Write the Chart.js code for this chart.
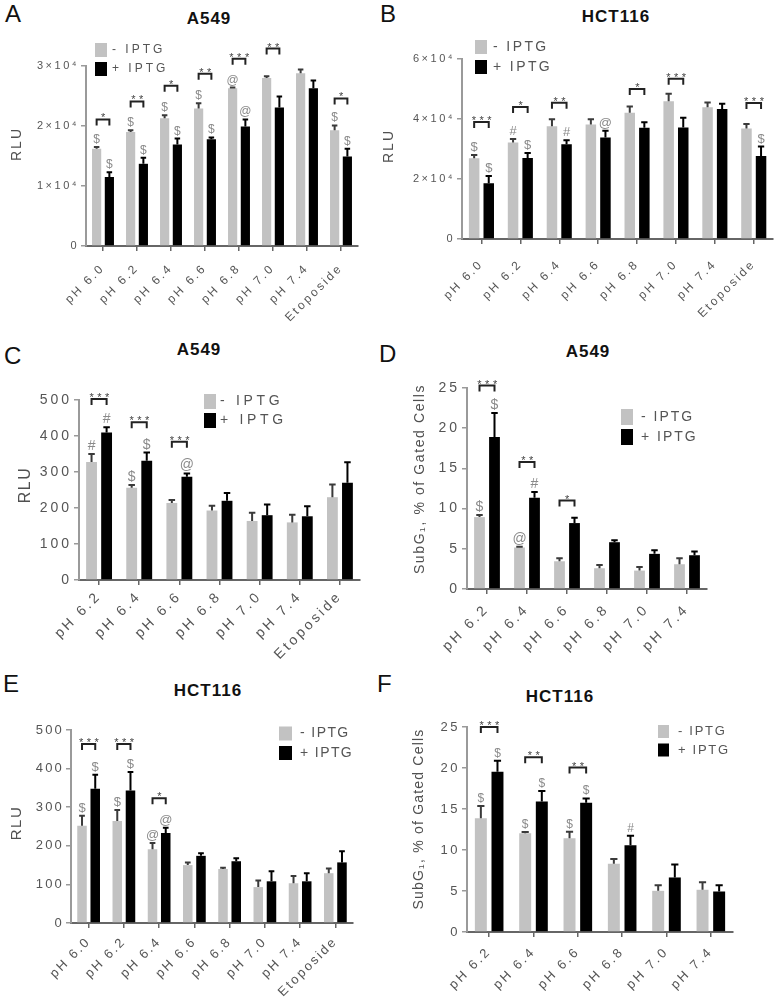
<!DOCTYPE html>
<html>
<head>
<meta charset="utf-8">
<script src="https://cdn.jsdelivr.net/npm/chart.js@4.4.1/dist/chart.umd.min.js"></script>
<style>
  body { margin: 0; width: 777px; height: 1001px; background: #fff; position: relative; overflow: hidden;
         font-family: "Liberation Sans", Arial, sans-serif; }
  canvas { position: absolute; }
  .letter { position: absolute; font-size: 24px; line-height: 1; color: #111; }
  .title { position: absolute; font-size: 17px; font-weight: bold; line-height: 1; color: #111;
           letter-spacing: 1px; transform: translate(-50%, -50%); white-space: nowrap; }
</style>
</head>
<body>
<div class="letter" style="left:5px;top:2px">A</div>
<div class="letter" style="left:380px;top:2px">B</div>
<div class="letter" style="left:4px;top:344px">C</div>
<div class="letter" style="left:379px;top:342px">D</div>
<div class="letter" style="left:3px;top:672px">E</div>
<div class="letter" style="left:377px;top:672px">F</div>
<div class="title" style="left:209px;top:18px">A549</div>
<div class="title" style="left:616px;top:16px">HCT116</div>
<div class="title" style="left:199px;top:349px">A549</div>
<div class="title" style="left:588px;top:351px">A549</div>
<div class="title" style="left:208px;top:690px">HCT116</div>
<div class="title" style="left:560px;top:696px">HCT116</div>
<script>
// categories
const labels8 = ['pH 6.0', 'pH 6.2', 'pH 6.4', 'pH 6.6', 'pH 6.8', 'pH 7.0', 'pH 7.4', 'Etoposide'];
const labels7 = ['pH 6.2', 'pH 6.4', 'pH 6.6', 'pH 6.8', 'pH 7.0', 'pH 7.4', 'Etoposide'];
const labels6 = ['pH 6.2', 'pH 6.4', 'pH 6.6', 'pH 6.8', 'pH 7.0', 'pH 7.4'];

// A - A549, RLU
const aMinus    = [16200, 19000, 21300, 22900, 26300, 28000, 28800, 19300];
const aMinusErr = [300, 300, 500, 900, 100, 300, 600, 800];
const aPlus     = [11500, 13700, 16900, 17800, 19900, 23100, 26300, 14900];
const aPlusErr  = [800, 1000, 1000, 300, 1200, 1800, 1300, 1300];
const aMinusSym = ['$', '$', '$', '$', '@', '', '', '$'];
const aPlusSym  = ['$', '$', '$', '$', '@', '', '', '$'];
const aStars    = ['*', '**', '*', '**', '***', '**', '', '*'];
const aBracket  = [21100, 24100, 26700, 28700, 31200, 32900, 0, 24600];

// B - HCT116, RLU
const bMinus    = [26900, 32200, 37600, 38200, 42100, 45900, 43900, 36800];
const bMinusErr = [1100, 1100, 2300, 1700, 2100, 2500, 1600, 1500];
const bPlus     = [18600, 27000, 31600, 33800, 37100, 37200, 43300, 27700];
const bPlusErr  = [2400, 1700, 1300, 2300, 1800, 3200, 1800, 3100];
const bMinusSym = ['$', '#', '', '', '', '', '', ''];
const bPlusSym  = ['$', '$', '#', '@', '', '', '', '$'];
const bStars    = ['***', '*', '**', '', '*', '***', '', '***'];
const bBracket  = [39000, 44000, 45400, 0, 50000, 53400, 0, 45300];

// C - A549, RLU
const cMinus    = [328, 256, 214, 193, 164, 160, 230];
const cMinusErr = [22, 8, 8, 13, 23, 21, 35];
const cPlus     = [410, 331, 287, 220, 180, 177, 270];
const cPlusErr  = [14, 23, 9, 22, 30, 28, 57];
const cMinusSym = ['#', '$', '', '', '', '', ''];
const cPlusSym  = ['#', '$', '@', '', '', '', ''];
const cStars    = ['***', '***', '***', '', '', '', ''];
const cBracket  = [503, 438, 384, 0, 0, 0, 0];

// D - A549, SubG1 %
const dMinus    = [8.94, 5.16, 3.45, 2.58, 2.29, 3.08];
const dMinusErr = [0.26, 0.08, 0.38, 0.42, 0.46, 0.75];
const dPlus     = [18.9, 11.36, 8.2, 5.82, 4.37, 4.2];
const dPlusErr  = [3.0, 0.7, 0.66, 0.25, 0.46, 0.46];
const dMinusSym = ['$', '@', '', '', '', ''];
const dPlusSym  = ['$', '#', '', '', '', ''];
const dStars    = ['***', '**', '*', '', '', ''];
const dBracket  = [25.3, 15.8, 11.0, 0, 0, 0];

// E - HCT116, RLU
const eMinus    = [252, 264, 191, 150, 140, 93, 103, 129];
const eMinusErr = [26, 29, 16, 7, 3, 17, 19, 12];
const ePlus     = [348, 343, 233, 174, 160, 108, 108, 157];
const ePlusErr  = [36, 48, 14, 7, 8, 26, 21, 29];
const eMinusSym = ['$', '$', '@', '', '', '', '', ''];
const ePlusSym  = ['$', '$', '@', '', '', '', '', ''];
const eStars    = ['***', '***', '*', '', '', '', '', ''];
const eBracket  = [464, 464, 323, 0, 0, 0, 0, 0];

// F - HCT116, SubG1 %
const fMinus    = [13.86, 12.03, 11.43, 8.31, 5.02, 5.15];
const fMinusErr = [1.5, 0.17, 0.81, 0.59, 0.68, 0.93];
const fPlus     = [19.53, 15.92, 15.76, 10.58, 6.65, 4.94];
const fPlusErr  = [1.34, 1.26, 0.53, 1.17, 1.58, 0.77];
const fMinusSym = ['$', '$', '$', '', '', ''];
const fPlusSym  = ['$', '$', '$', '#', '', ''];
const fStars    = ['***', '**', '**', '', '', ''];
const fBracket  = [25.0, 21.3, 20.06, 0, 0, 0];

const FAMILY = '"Liberation Sans", Arial, sans-serif';
Chart.defaults.font.family = FAMILY;

const sci = v => v === 0 ? '0' : (v / 10000) + '×10⁴';
const SUBG = 'SubG₁, % of Gated Cells';

function makePanel(p) {
  const box = p.box;
  const cv = document.createElement('canvas');
  cv.width = box.w; cv.height = box.h;
  cv.style.left = box.x + 'px'; cv.style.top = box.y + 'px';
  document.body.appendChild(cv);

  // error bars, $/#/@ marks, significance brackets, legend, y title
  const extras = {
    id: 'extras',
    beforeDraw(chart) { chart.ctx.letterSpacing = p.spacing; },
    afterDraw(chart) {
      const ctx = chart.ctx, ys = chart.scales.y;
      ctx.save();
      chart.data.datasets.forEach((ds, i) => {
        chart.getDatasetMeta(i).data.forEach((bar, j) => {
          const tip = ys.getPixelForValue(ds.data[j] + ds.err[j]);
          const cap = bar.width * 0.3;
          ctx.strokeStyle = ds.errColor; ctx.lineWidth = 2;
          ctx.beginPath();
          ctx.moveTo(bar.x, bar.y); ctx.lineTo(bar.x, tip);
          ctx.moveTo(bar.x - cap, tip); ctx.lineTo(bar.x + cap, tip);
          ctx.stroke();
          if (ds.sym[j]) {
            ctx.fillStyle = '#8a8a8a';
            ctx.font = p.symSize + 'px ' + FAMILY;
            ctx.letterSpacing = '0px';
            ctx.textAlign = 'center'; ctx.textBaseline = 'alphabetic';
            ctx.fillText(ds.sym[j], bar.x, tip - 4);
          }
        });
      });
      const g = chart.getDatasetMeta(0).data, b = chart.getDatasetMeta(1).data;
      p.stars.forEach((s, j) => {
        if (!s) return;
        const yy = ys.getPixelForValue(p.bracket[j]);
        ctx.strokeStyle = '#222'; ctx.lineWidth = 2;
        ctx.beginPath();
        ctx.moveTo(g[j].x, yy + 6); ctx.lineTo(g[j].x, yy);
        ctx.lineTo(b[j].x, yy); ctx.lineTo(b[j].x, yy + 6);
        ctx.stroke();
        ctx.fillStyle = '#444';
        ctx.font = '11px ' + FAMILY;
        ctx.letterSpacing = '3.5px';
        ctx.textAlign = 'center'; ctx.textBaseline = 'alphabetic';
        ctx.fillText(s, (g[j].x + b[j].x) / 2 + 2, yy + 2);
      });
      const L = p.legend;
      chart.data.datasets.forEach((ds, i) => {
        const cy = L.y + i * L.gap - box.y;
        ctx.fillStyle = ds.backgroundColor;
        ctx.fillRect(L.x - box.x, cy - L.sh / 2, L.sw, L.sh);
        ctx.fillStyle = '#555';
        ctx.font = L.size + 'px ' + FAMILY;
        ctx.letterSpacing = L.spacing;
        ctx.textAlign = 'left'; ctx.textBaseline = 'middle';
        ctx.fillText(ds.label, L.x - box.x + L.sw + L.pad, cy);
      });
      const T = p.yTitle;
      ctx.translate(T.x - box.x, T.y - box.y);
      ctx.rotate(-Math.PI / 2);
      ctx.fillStyle = '#505050';
      ctx.font = T.size + 'px ' + FAMILY;
      ctx.letterSpacing = T.spacing;
      ctx.textAlign = 'center'; ctx.textBaseline = 'middle';
      ctx.fillText(T.text, 0, 0);
      ctx.restore();
    }
  };

  new Chart(cv, {
    type: 'bar',
    data: {
      labels: p.labels,
      datasets: [
        { label: '- IPTG', data: p.minus, err: p.minusErr, sym: p.minusSym,
          backgroundColor: '#c2c2c2', errColor: '#3a3a3a' },
        { label: '+ IPTG', data: p.plus, err: p.plusErr, sym: p.plusSym,
          backgroundColor: '#000000', errColor: '#000000' }
      ]
    },
    options: {
      responsive: false,
      animation: false,
      layout: { padding: { left: 0, top: p.area.t - box.y, right: box.x + box.w - p.area.r, bottom: 0 } },
      datasets: { bar: { categoryPercentage: 0.75, barPercentage: 0.72 } },
      plugins: { legend: { display: false }, tooltip: { enabled: false } },
      scales: {
        x: {
          grid: { drawOnChartArea: false, offset: false, tickLength: 5, color: '#666', lineWidth: 1.5 },
          border: { color: '#666', width: 2 },
          ticks: { minRotation: 45, maxRotation: 45, autoSkip: false, padding: p.xPad,
                   color: '#555', font: { size: p.xSize } },
          afterFit: s => { s.height = box.y + box.h - p.area.b; }
        },
        y: {
          min: 0, max: p.yMax,
          grid: { drawOnChartArea: false, tickLength: 5, color: '#9a9a9a', lineWidth: 1.5 },
          border: { color: '#9a9a9a', width: 2 },
          ticks: { stepSize: p.yStep, padding: 2, color: '#555', font: { size: p.ySize },
                   callback: p.fmt || (v => v) },
          afterFit: s => { s.width = p.area.l - box.x; }
        }
      }
    },
    plugins: [extras]
  });
}

makePanel({
  box: { x: 0, y: 0, w: 376, h: 330 }, area: { l: 86, t: 66, r: 358, b: 246 },
  labels: labels8, minus: aMinus, minusErr: aMinusErr, plus: aPlus, plusErr: aPlusErr,
  minusSym: aMinusSym, plusSym: aPlusSym, stars: aStars, bracket: aBracket,
  yMax: 30000, yStep: 10000, fmt: sci, ySize: 11, xSize: 12, spacing: '2.5px', xPad: 10, symSize: 12,
  legend: { x: 95, y: 50, gap: 19, sw: 12, sh: 14, pad: 5, size: 12, spacing: '3px' },
  yTitle: { text: 'RLU', x: 17, y: 144, size: 14, spacing: '2px' }
});

makePanel({
  box: { x: 376, y: 0, w: 401, h: 330 }, area: { l: 462, t: 59, r: 776, b: 239 },
  labels: labels8, minus: bMinus, minusErr: bMinusErr, plus: bPlus, plusErr: bPlusErr,
  minusSym: bMinusSym, plusSym: bPlusSym, stars: bStars, bracket: bBracket,
  yMax: 60000, yStep: 20000, fmt: sci, ySize: 11, xSize: 12, spacing: '2.5px', xPad: 13, symSize: 13,
  legend: { x: 475, y: 47, gap: 20, sw: 12, sh: 14, pad: 6, size: 14, spacing: '2.4px' },
  yTitle: { text: 'RLU', x: 389, y: 146, size: 14, spacing: '2px' }
});

makePanel({
  box: { x: 0, y: 330, w: 376, h: 330 }, area: { l: 79, t: 400, r: 360, b: 580 },
  labels: labels7, minus: cMinus, minusErr: cMinusErr, plus: cPlus, plusErr: cPlusErr,
  minusSym: cMinusSym, plusSym: cPlusSym, stars: cStars, bracket: cBracket,
  yMax: 500, yStep: 100, ySize: 14, xSize: 14, spacing: '3px', xPad: 3, symSize: 14,
  legend: { x: 204, y: 401.5, gap: 19, sw: 12, sh: 15, pad: 4, size: 14, spacing: '3.7px' },
  yTitle: { text: 'RLU', x: 26, y: 485, size: 16, spacing: '1.5px' }
});

makePanel({
  box: { x: 376, y: 330, w: 401, h: 330 }, area: { l: 467, t: 388, r: 707, b: 589 },
  labels: labels6, minus: dMinus, minusErr: dMinusErr, plus: dPlus, plusErr: dPlusErr,
  minusSym: dMinusSym, plusSym: dPlusSym, stars: dStars, bracket: dBracket,
  yMax: 25, yStep: 5, ySize: 14, xSize: 14, spacing: '3px', xPad: 7, symSize: 14,
  legend: { x: 621, y: 417, gap: 20, sw: 12, sh: 16, pad: 8, size: 14, spacing: '2px' },
  yTitle: { text: SUBG, x: 420, y: 479, size: 14, spacing: '1.6px' }
});

makePanel({
  box: { x: 0, y: 660, w: 376, h: 341 }, area: { l: 71, t: 730, r: 353, b: 923 },
  labels: labels8, minus: eMinus, minusErr: eMinusErr, plus: ePlus, plusErr: ePlusErr,
  minusSym: eMinusSym, plusSym: ePlusSym, stars: eStars, bracket: eBracket,
  yMax: 500, yStep: 100, ySize: 13, xSize: 13, spacing: '2.2px', xPad: 6, symSize: 13,
  legend: { x: 279, y: 733.5, gap: 19.5, sw: 13, sh: 14, pad: 8, size: 14, spacing: '1.4px' },
  yTitle: { text: 'RLU', x: 17, y: 823, size: 15, spacing: '1.5px' }
});

makePanel({
  box: { x: 376, y: 660, w: 401, h: 341 }, area: { l: 467, t: 727, r: 733, b: 932 },
  labels: labels6, minus: fMinus, minusErr: fMinusErr, plus: fPlus, plusErr: fPlusErr,
  minusSym: fMinusSym, plusSym: fPlusSym, stars: fStars, bracket: fBracket,
  yMax: 25, yStep: 5, ySize: 13, xSize: 13, spacing: '2.5px', xPad: 7, symSize: 12,
  legend: { x: 658, y: 731.5, gap: 18.5, sw: 11, sh: 13, pad: 9, size: 13, spacing: '1.7px' },
  yTitle: { text: SUBG, x: 419, y: 819, size: 14, spacing: '1.2px' }
});
</script>
</body>
</html>
